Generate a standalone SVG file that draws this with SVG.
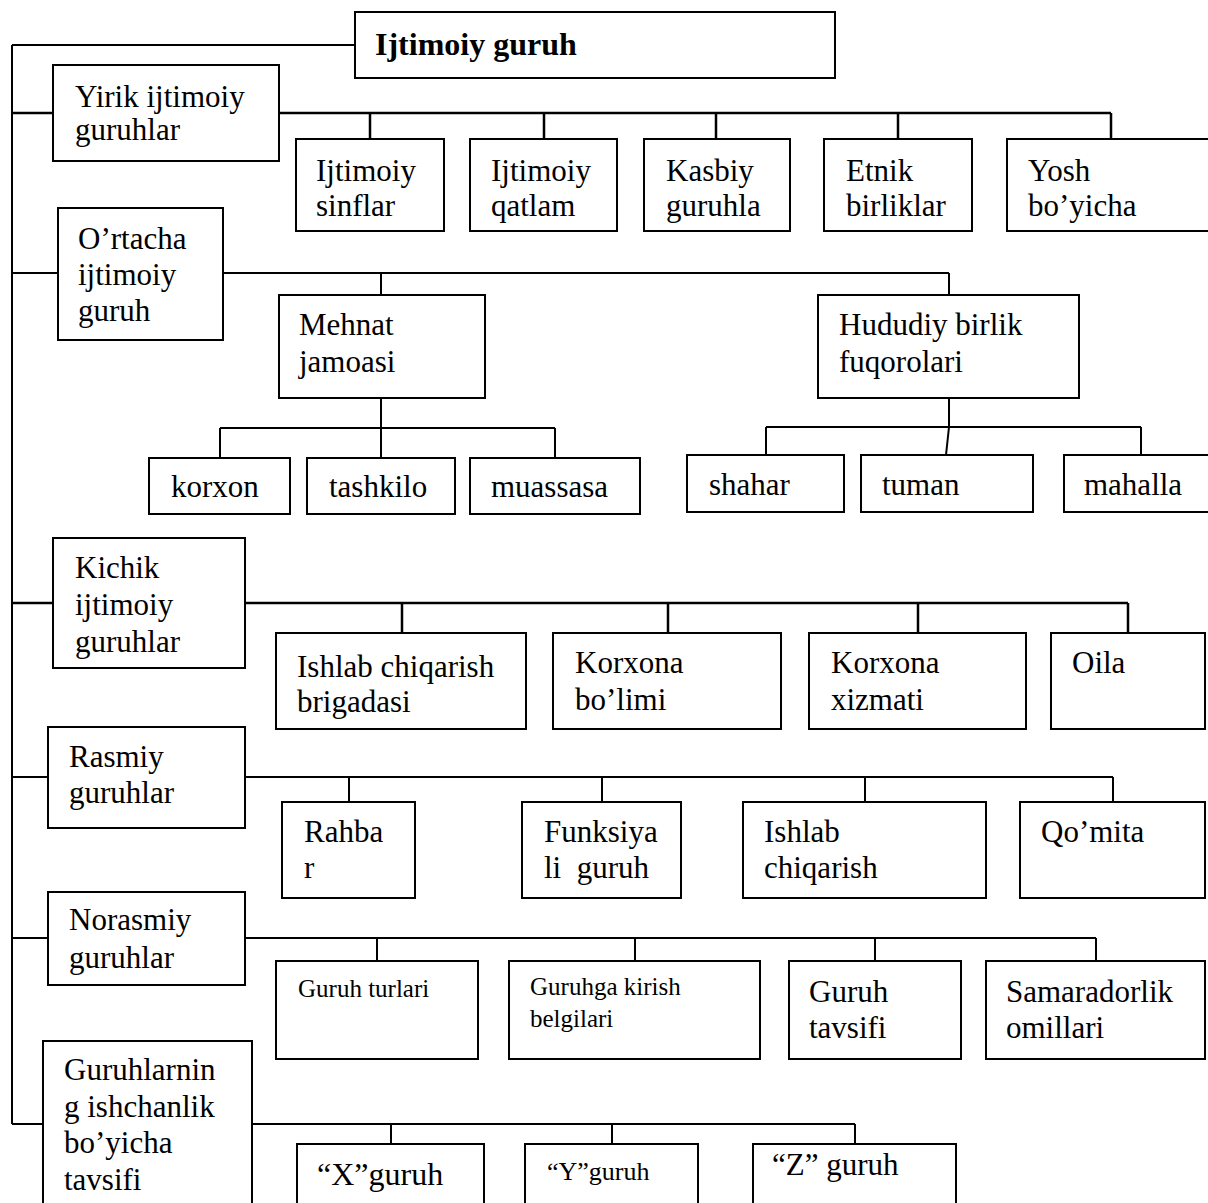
<svg xmlns="http://www.w3.org/2000/svg" width="1208" height="1203" viewBox="0 0 1208 1203">
<style>
.b{fill:#fff;stroke:#000;stroke-width:2}
.t{font-family:"Liberation Serif","Times New Roman",serif;font-size:31px;fill:#000}
.s{font-size:25px}
.hd{font-weight:bold;font-size:32px}
.c{fill:none;stroke:#000;stroke-width:2}
</style>
<rect width="1208" height="1203" fill="#fff"/>
<g id="connectors" class="c">
<path d="M12,45V1124M12,45H355"/>
<path d="M12,113H53M279,113H1111M370,113V139M544,113V139M716,113V139M898,113V139M1111,113V139" stroke-width="2.5"/>
<path d="M12,273H58M223,273H949M381,273V295M949,273V295"/>
<path d="M381,398V428M220,428H555M220,428V458M381,428V458M555,428V458"/>
<path d="M949,398V427M766,427H1141M766,427V455M949,427L946,455M1141,427V455"/>
<path d="M12,603H53M245,603H1128M402,603V633M668,603V633M918,603V633M1128,603V633" stroke-width="2.5"/>
<path d="M12,777H48M245,777H1113M349,777V802M602,777V802M865,777V802M1113,777V802"/>
<path d="M12,938H48M245,938H1096M377,938V961M635,938V961M875,938V961M1096,938V961"/>
<path d="M12,1124H43M252,1124H855M391,1124V1144M612,1124V1144M855,1124V1144"/>
</g>
<g id="n-top"><rect class="b" x="355" y="12" width="480" height="66"/><text class="t hd" x="375" y="55">Ijtimoiy guruh</text></g>
<g id="n-yirik"><rect class="b" x="53" y="65" width="226" height="96"/><text class="t" x="75" y="107">Yirik ijtimoiy</text><text class="t" x="75" y="140">guruhlar</text></g>
<g id="n-sinflar"><rect class="b" x="296" y="139" width="148" height="92"/><text class="t" x="316" y="181">Ijtimoiy</text><text class="t" x="316" y="216">sinflar</text></g>
<g id="n-qatlam"><rect class="b" x="470" y="139" width="147" height="92"/><text class="t" x="491" y="181">Ijtimoiy</text><text class="t" x="491" y="216">qatlam</text></g>
<g id="n-kasbiy"><rect class="b" x="644" y="139" width="146" height="92"/><text class="t" x="666" y="181">Kasbiy</text><text class="t" x="666" y="216">guruhla</text></g>
<g id="n-etnik"><rect class="b" x="824" y="139" width="148" height="92"/><text class="t" x="846" y="181">Etnik</text><text class="t" x="846" y="216">birliklar</text></g>
<g id="n-yosh"><rect class="b" x="1007" y="139" width="210" height="92"/><text class="t" x="1028" y="181">Yosh</text><text class="t" x="1028" y="216">bo’yicha</text></g>
<g id="n-ortacha"><rect class="b" x="58" y="208" width="165" height="132"/><text class="t" x="78" y="249">O’rtacha</text><text class="t" x="78" y="285">ijtimoiy</text><text class="t" x="78" y="321">guruh</text></g>
<g id="n-mehnat"><rect class="b" x="279" y="295" width="206" height="103"/><text class="t" x="299" y="335">Mehnat</text><text class="t" x="299" y="372">jamoasi</text></g>
<g id="n-hududiy"><rect class="b" x="818" y="295" width="261" height="103"/><text class="t" x="839" y="335">Hududiy birlik</text><text class="t" x="839" y="372">fuqorolari</text></g>
<g id="n-korxon"><rect class="b" x="149" y="458" width="141" height="56"/><text class="t" x="171" y="497">korxon</text></g>
<g id="n-tashkilo"><rect class="b" x="307" y="458" width="148" height="56"/><text class="t" x="329" y="497">tashkilo</text></g>
<g id="n-muassasa"><rect class="b" x="470" y="458" width="170" height="56"/><text class="t" x="491" y="497">muassasa</text></g>
<g id="n-shahar"><rect class="b" x="687" y="455" width="157" height="57"/><text class="t" x="709" y="495">shahar</text></g>
<g id="n-tuman"><rect class="b" x="861" y="455" width="172" height="57"/><text class="t" x="882" y="495">tuman</text></g>
<g id="n-mahalla"><rect class="b" x="1064" y="455" width="150" height="57"/><text class="t" x="1084" y="495">mahalla</text></g>
<g id="n-kichik"><rect class="b" x="53" y="538" width="192" height="130"/><text class="t" x="75" y="578">Kichik</text><text class="t" x="75" y="615">ijtimoiy</text><text class="t" x="75" y="652">guruhlar</text></g>
<g id="n-brigada"><rect class="b" x="276" y="633" width="250" height="96"/><text class="t" x="297" y="677">Ishlab chiqarish</text><text class="t" x="297" y="712">brigadasi</text></g>
<g id="n-bolimi"><rect class="b" x="553" y="633" width="228" height="96"/><text class="t" x="575" y="673">Korxona</text><text class="t" x="575" y="710">bo’limi</text></g>
<g id="n-xizmati"><rect class="b" x="809" y="633" width="217" height="96"/><text class="t" x="831" y="673">Korxona</text><text class="t" x="831" y="710">xizmati</text></g>
<g id="n-oila"><rect class="b" x="1051" y="633" width="154" height="96"/><text class="t" x="1072" y="673">Oila</text></g>
<g id="n-rasmiy"><rect class="b" x="48" y="727" width="197" height="101"/><text class="t" x="69" y="767">Rasmiy</text><text class="t" x="69" y="803">guruhlar</text></g>
<g id="n-rahbar"><rect class="b" x="282" y="802" width="133" height="96"/><text class="t" x="304" y="842">Rahba</text><text class="t" x="304" y="878">r</text></g>
<g id="n-funksiya"><rect class="b" x="522" y="802" width="159" height="96"/><text class="t" x="544" y="842">Funksiya</text><text class="t" x="544" y="878">li&#160; guruh</text></g>
<g id="n-ishlab"><rect class="b" x="743" y="802" width="243" height="96"/><text class="t" x="764" y="842">Ishlab</text><text class="t" x="764" y="878">chiqarish</text></g>
<g id="n-qomita"><rect class="b" x="1020" y="802" width="185" height="96"/><text class="t" x="1041" y="842">Qo’mita</text></g>
<g id="n-norasmiy"><rect class="b" x="48" y="892" width="197" height="93"/><text class="t" x="69" y="930">Norasmiy</text><text class="t" x="69" y="968">guruhlar</text></g>
<g id="n-turlari"><rect class="b" x="276" y="961" width="202" height="98"/><text class="t s" x="298" y="997">Guruh turlari</text></g>
<g id="n-kirish"><rect class="b" x="509" y="961" width="251" height="98"/><text class="t s" x="530" y="995">Guruhga kirish</text><text class="t s" x="530" y="1027">belgilari</text></g>
<g id="n-tavsifi"><rect class="b" x="789" y="961" width="172" height="98"/><text class="t" x="809" y="1002">Guruh</text><text class="t" x="809" y="1038">tavsifi</text></g>
<g id="n-samara"><rect class="b" x="986" y="961" width="219" height="98"/><text class="t" x="1006" y="1002">Samaradorlik</text><text class="t" x="1006" y="1038">omillari</text></g>
<g id="n-ishchan"><rect class="b" x="43" y="1041" width="209" height="180"/><text class="t" x="64" y="1080">Guruhlarnin</text><text class="t" x="64" y="1117">g ishchanlik</text><text class="t" x="64" y="1153">bo’yicha</text><text class="t" x="64" y="1190">tavsifi</text></g>
<g id="n-x"><rect class="b" x="297" y="1144" width="187" height="80"/><text class="t" x="317" y="1185" style="font-size:32px">“X”guruh</text></g>
<g id="n-y"><rect class="b" x="525" y="1144" width="173" height="80"/><text class="t" x="547" y="1180" style="font-size:26px">“Y”guruh</text></g>
<g id="n-z"><rect class="b" x="753" y="1144" width="203" height="80"/><text class="t" x="772" y="1175">“Z” guruh</text></g>
</svg>
